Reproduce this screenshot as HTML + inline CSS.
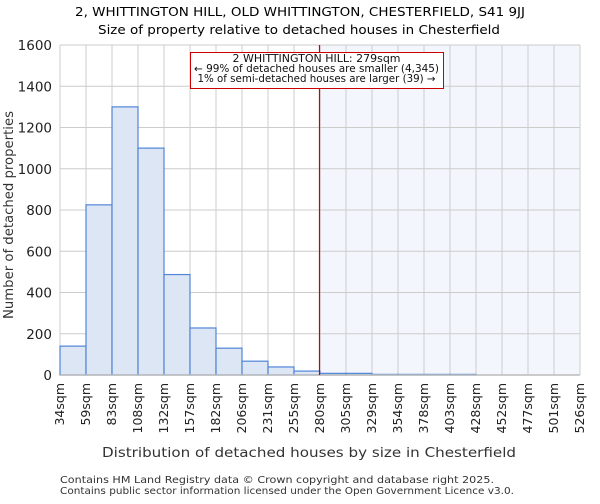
<!DOCTYPE html>
<html><head><meta charset="utf-8"><style>
body{margin:0;background:#fff;font-family:"DejaVu Sans","Liberation Sans",sans-serif;}
</style></head><body>
<svg id="chart" width="600" height="500" xmlns="http://www.w3.org/2000/svg" font-family="DejaVu Sans, Liberation Sans, sans-serif">
<text x="300" y="16" text-anchor="middle" font-size="12.5" textLength="450" lengthAdjust="spacingAndGlyphs">2, WHITTINGTON HILL, OLD WHITTINGTON, CHESTERFIELD, S41 9JJ</text>
<text x="299" y="34" text-anchor="middle" font-size="12.5" textLength="402" lengthAdjust="spacingAndGlyphs">Size of property relative to detached houses in Chesterfield</text>
<g id="grid"></g>
<g id="bars"></g>
<g id="xticks"></g>
<g id="yticks"></g>
<text transform="translate(13,215) rotate(-90)" text-anchor="middle" font-size="13" fill="#333" textLength="208" lengthAdjust="spacingAndGlyphs">Number of detached properties</text>
<text x="309" y="457" text-anchor="middle" font-size="13" fill="#333" textLength="414" lengthAdjust="spacingAndGlyphs">Distribution of detached houses by size in Chesterfield</text>
<text x="60" y="483" font-size="10" fill="#333" textLength="434" lengthAdjust="spacingAndGlyphs">Contains HM Land Registry data © Crown copyright and database right 2025.</text>
<text x="60" y="494" font-size="10" fill="#333" textLength="454" lengthAdjust="spacingAndGlyphs">Contains public sector information licensed under the Open Government Licence v3.0.</text>
</svg>
<script>
const categories=["34sqm","59sqm","83sqm","108sqm","132sqm","157sqm","182sqm","206sqm","231sqm","255sqm","280sqm","305sqm","329sqm","354sqm","378sqm","403sqm","428sqm","452sqm","477sqm","501sqm","526sqm"];
const counts=[140,825,1300,1100,487,228,130,67,39,19,8,8,3,3,3,3,0,0,0,0];
const yTicks=[0,200,400,600,800,1000,1200,1400,1600];
const markerIndex=10;
const NS="http://www.w3.org/2000/svg";
const L=60,R=580,T=45,B=375,yMax=1600;
const bw=(R-L)/counts.length;
const xs=i=>L+i*bw;
const ys=v=>B-v/yMax*(B-T);
function mk(tag,attrs,parent){const e=document.createElementNS(NS,tag);for(const k in attrs)e.setAttribute(k,attrs[k]);document.getElementById(parent).appendChild(e);return e;}
const sh=mk("rect",{x:xs(markerIndex),y:T,width:R-xs(markerIndex),height:B-T,fill:"#f3f6fd"},"grid");


yTicks.forEach(v=>{
  const g=mk("line",{x1:L,x2:R,y1:ys(v),y2:ys(v),stroke:"#cccccc","stroke-width":1},"grid");
  
  
  const t=mk("text",{x:L-8,y:ys(v)+5,"text-anchor":"end","font-size":"13.5",fill:"#222"},"yticks");
  t.textContent=v;
  
  
});
categories.forEach((c,i)=>{
  const g=mk("line",{x1:xs(i),x2:xs(i),y1:T,y2:B,stroke:"#cccccc","stroke-width":1},"grid");
  
  
  const x=xs(i);
  const t=mk("text",{transform:`translate(${x+4},${B+8}) rotate(-90)`,"text-anchor":"end","font-size":"12.5",fill:"#222"},"xticks");
  t.textContent=c;
  
  
});
counts.forEach((v,i)=>{
  if(v<=0)return;
  const r=mk("rect",{x:xs(i),y:ys(v),width:bw,height:B-ys(v),fill:"#dde6f4",stroke:"#4f86d6","stroke-width":1.2},"bars");
  
  
});
const ax=mk("line",{x1:L,x2:R,y1:B,y2:B,stroke:"#bbbbbb","stroke-width":1.5},"bars");


const ml=mk("line",{x1:xs(markerIndex)-0.5,x2:xs(markerIndex)-0.5,y1:T,y2:B,stroke:"#cc0000","stroke-width":1.2},"bars");


const box=mk("rect",{x:190.5,y:52.5,width:253,height:36,fill:"#fff",stroke:"#cc0000","stroke-width":1},"bars");


const annLines=["2 WHITTINGTON HILL: 279sqm","← 99% of detached houses are smaller (4,345)","1% of semi-detached houses are larger (39) →"];
const annLens=[168,245,238];
annLines.forEach((s,k)=>{
  const t=mk("text",{x:316.5,y:62+k*10,"text-anchor":"middle","font-size":"10.3",fill:"#111",textLength:annLens[k],lengthAdjust:"spacingAndGlyphs"},"bars");
  t.textContent=s;
  
  
});
</script>
</body></html>
